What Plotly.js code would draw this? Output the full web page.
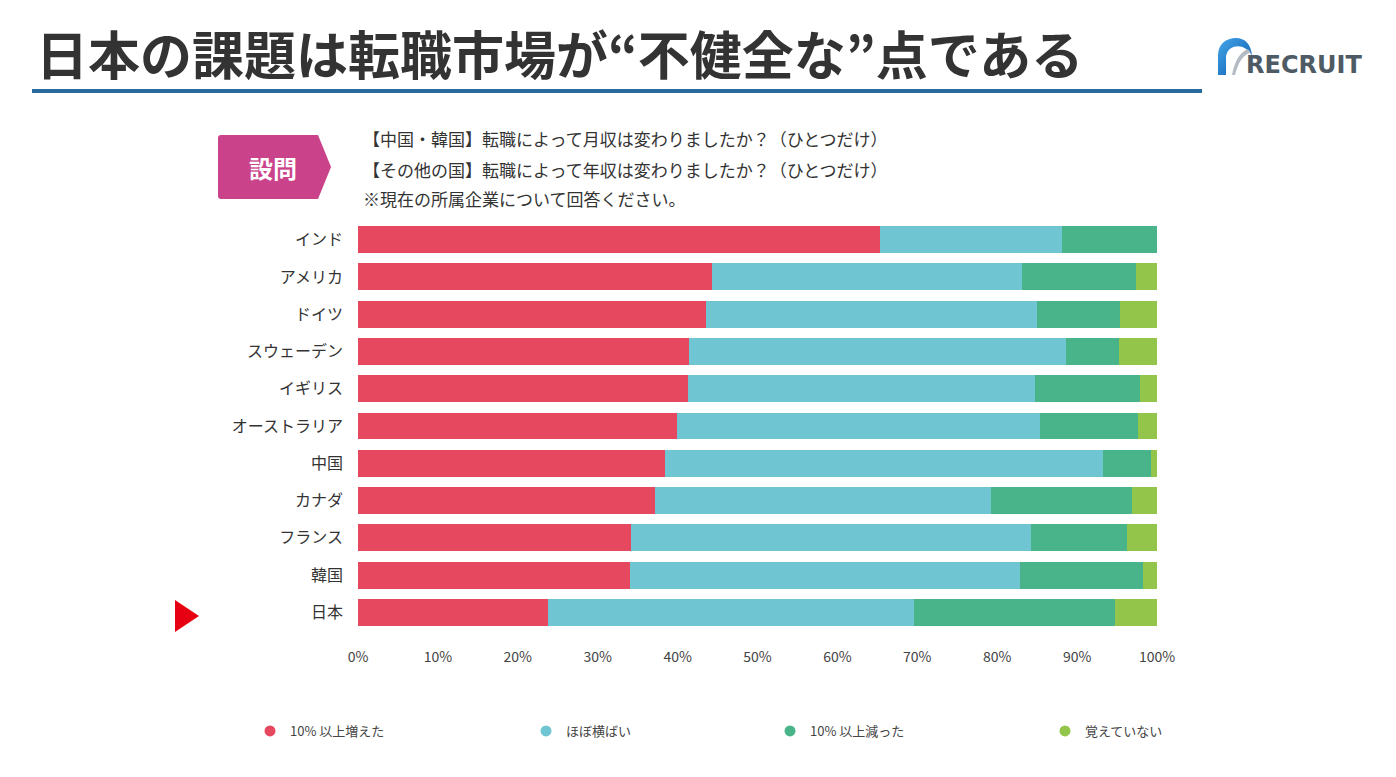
<!DOCTYPE html>
<html>
<head>
<meta charset="utf-8">
<script src="https://cdn.plot.ly/plotly-3.0.1.min.js"></script>
<style>
html,body{margin:0;padding:0;background:#fff;}
#chart{width:1396px;height:777px;}
</style>
</head>
<body>
<div id="chart"></div>
<script>
// ---- data ----
const countries = ["インド","アメリカ","ドイツ","スウェーデン","イギリス","オーストラリア","中国","カナダ","フランス","韓国","日本"];
const increased = [65.3, 44.3, 43.6, 41.4, 41.3, 39.9, 38.4, 37.2, 34.2, 34.0, 23.8];
const flat      = [22.8, 38.8, 41.4, 47.2, 43.4, 45.5, 54.9, 42.0, 50.0, 48.9, 45.8];
const decreased = [11.9, 14.3, 10.4,  6.6, 13.2, 12.2,  5.9, 17.7, 12.0, 15.3, 25.1];
const notSure   = [ 0.0,  2.6,  4.6,  4.8,  2.1,  2.4,  0.8,  3.1,  3.8,  1.8,  5.3];
const seriesNames = ["10% 以上増えた","ほぼ横ばい","10% 以上減った","覚えていない"];
const tickVals = [0,10,20,30,40,50,60,70,80,90,100];
const tickText = ["0%","10%","20%","30%","40%","50%","60%","70%","80%","90%","100%"];

const colors = ["#E64860","#6FC5D2","#49B48A","#93C54B"];
const FONT = "'Noto Sans CJK JP', 'Noto Sans', sans-serif";
const W = 1396, H = 777;
const px = v => v / W;
const py = v => 1 - v / H;

// plot area in page pixels
const pl = 358, pr = 1157, pt = 221, pb = 631;
const fx = x => (x - pl) / (pr - pl);
const fy = y => (pb - y) / (pb - pt);

const seriesVals = [increased, flat, decreased, notSure];
const legendIds = ["legend", "legend2", "legend3", "legend4"];
const legendCircleX = [270, 546, 790, 1065];

const traces = [];
seriesVals.forEach((vals, i) => {
  traces.push({
    type: "bar", orientation: "h", x: vals, y: countries,
    marker: {color: colors[i], line: {width: 0}},
    name: seriesNames[i], showlegend: false, hoverinfo: "skip"
  });
});
// legend entries with circle markers (one legend each, to place them freely)
seriesNames.forEach((n, i) => {
  traces.push({
    type: "scatter", mode: "markers", x: [null], y: [null],
    marker: {color: colors[i], size: 11, symbol: "circle"},
    name: n, showlegend: true, hoverinfo: "skip", legend: legendIds[i]
  });
});

const logoSvg = "data:image/svg+xml;utf8," + encodeURIComponent(
  '<svg xmlns="http://www.w3.org/2000/svg" width="36" height="36" viewBox="0 0 36 36">' +
  '<defs><linearGradient id="g" x1="0" y1="0" x2="1" y2="1"><stop offset="0" stop-color="#44A6E8"/><stop offset="1" stop-color="#0B5AAE"/></linearGradient></defs>' +
  '<path d="M1 36 L1 17 C1 6 9 0 19 0 C28 0 34 6 35 17 C31 11 26 8 21 8 C14 8 10 12 9 18 L9 36 Z" fill="url(#g)"/>' +
  '<path d="M31 11 C24 13 18 21 15 36 L18 36 C21 24 26 16 34 14 Z" fill="#B4BBC2"/>' +
  '</svg>');

const layout = {
  width: W, height: H,
  paper_bgcolor: "#fff", plot_bgcolor: "#fff",
  margin: {l: pl, r: W - pr, t: pt, b: H - pb},
  barmode: "stack", bargap: 0.28,
  font: {family: FONT, color: "#333"},
  title: {
    text: "<b>日本の課題は転職市場が“不健全な”点である</b>",
    xref: "container", yref: "container",
    x: px(36), xanchor: "left", y: py(57), yanchor: "middle",
    font: {family: FONT, size: 52, color: "#333333"}
  },
  xaxis: {
    range: [0, 100], tickvals: tickVals, ticktext: tickText,
    showgrid: false, zeroline: false, showline: false, ticks: "",
    ticklabelstandoff: 16,
    tickfont: {family: FONT, size: 14, color: "#444"}, fixedrange: true
  },
  yaxis: {
    type: "category", categoryorder: "array", categoryarray: countries,
    autorange: "reversed",
    showgrid: false, zeroline: false, showline: false, ticks: "",
    ticklabelstandoff: 14,
    tickfont: {family: FONT, size: 16, color: "#333"}, fixedrange: true
  },
  showlegend: true,
  shapes: [
    {type: "rect", xref: "paper", yref: "paper", x0: fx(32), x1: fx(1202), y0: fy(93), y1: fy(89),
     fillcolor: "#2A6A9B", line: {width: 0}},
    {type: "path", xref: "paper", yref: "paper",
     path: `M ${fx(221)},${fy(135)} L ${fx(318)},${fy(135)} L ${fx(331)},${fy(167)} L ${fx(318)},${fy(199)} L ${fx(221)},${fy(199)} Q ${fx(218)},${fy(199)} ${fx(218)},${fy(196)} L ${fx(218)},${fy(138)} Q ${fx(218)},${fy(135)} ${fx(221)},${fy(135)} Z`,
     fillcolor: "#C9428A", line: {width: 0}},
    {type: "path", xref: "paper", yref: "paper",
     path: `M ${fx(175)},${fy(600)} L ${fx(199)},${fy(616)} L ${fx(175)},${fy(632)} Z`,
     fillcolor: "#E60012", line: {width: 0}}
  ],
  annotations: [
    {xref: "paper", yref: "paper", x: fx(273), y: fy(167), text: "<b>設問</b>", showarrow: false,
     font: {family: FONT, size: 24, color: "#ffffff"}, xanchor: "center", yanchor: "middle"},
    {xref: "paper", yref: "paper", x: fx(1244), y: fy(65), xanchor: "left", yanchor: "middle",
     text: "<b>RECRUIT</b>", showarrow: false,
     font: {family: "'DejaVu Sans', sans-serif", size: 24, color: "#4E5B64"}}
  ],
  images: [
    {source: logoSvg, xref: "paper", yref: "paper", x: fx(1217), y: fy(38),
     sizex: fx(1253) - fx(1217), sizey: fy(38) - fy(75),
     xanchor: "left", yanchor: "top", sizing: "stretch", layer: "above"}
  ]
};

const questionLines = [
  ["【中国・韓国】転職によって月収は変わりましたか？（ひとつだけ）", 138],
  ["【その他の国】転職によって年収は変わりましたか？（ひとつだけ）", 169],
  ["※現在の所属企業について回答ください。", 199]
];
questionLines.forEach(([t, y]) => {
  layout.annotations.push({xref: "paper", yref: "paper", x: fx(361), y: fy(y),
    xanchor: "left", yanchor: "middle", text: t, showarrow: false,
    font: {family: FONT, size: 17, color: "#333"}});
});

legendIds.forEach((id, i) => {
  layout[id] = {
    orientation: "h", xref: "container", yref: "container",
    x: px(legendCircleX[i] - 20), xanchor: "left", y: py(731), yanchor: "middle",
    itemwidth: 30, font: {family: FONT, size: 13, color: "#444"},
    itemclick: false, itemdoubleclick: false, bgcolor: "rgba(0,0,0,0)", borderwidth: 0
  };
});

Plotly.newPlot("chart", traces, layout, {displayModeBar: false, staticPlot: true});
</script>
</body>
</html>
